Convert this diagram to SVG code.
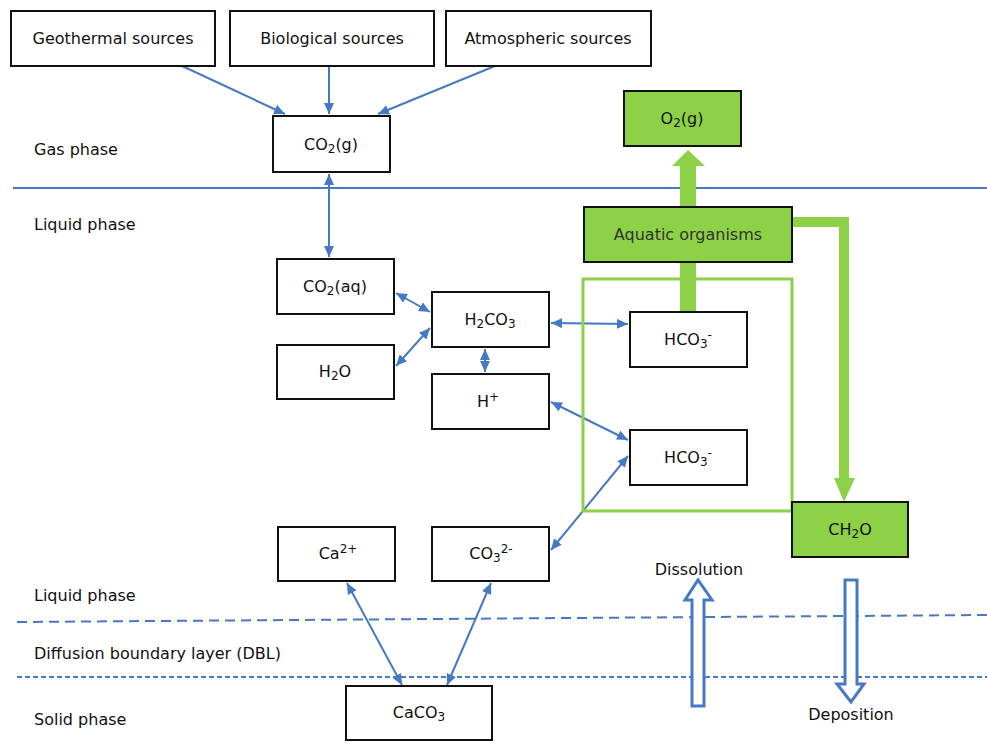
<svg xmlns="http://www.w3.org/2000/svg" width="987" height="745" viewBox="0 0 987 745">
<defs>
<style>
text{font-family:"DejaVu Sans","Liberation Sans",sans-serif;font-size:16px;fill:#111}
.c{text-anchor:middle}
.box{fill:#fff;stroke:#111;stroke-width:2}
.gbox{fill:#8CD146;stroke:#111;stroke-width:2}
.ln{stroke:#4679C4;stroke-width:2;fill:none}
.sub{font-size:12px}
.hol{fill:#fff;stroke:#4679C4;stroke-width:3}
</style>
<marker id="ah" markerUnits="userSpaceOnUse" markerWidth="12" markerHeight="10" refX="11" refY="5" orient="auto">
<path d="M0,0 L11,5 L0,10 Z" fill="#4679C4"/>
</marker>
<marker id="as" markerUnits="userSpaceOnUse" markerWidth="12" markerHeight="10" refX="1" refY="5" orient="auto">
<path d="M12,0 L1,5 L12,10 Z" fill="#4679C4"/>
</marker>
</defs>
<rect width="987" height="745" fill="#fff"/>

<g id="layers">
<line x1="13" y1="188" x2="987" y2="188" stroke="#4679C4" stroke-width="2"/>
<line x1="17" y1="622" x2="987" y2="615" stroke="#4679C4" stroke-width="2" stroke-dasharray="10,6"/>
<line x1="17" y1="677" x2="987" y2="677" stroke="#4679C4" stroke-width="2" stroke-dasharray="5,3"/>
<text x="34" y="155">Gas phase</text>
<text x="34" y="230">Liquid phase</text>
<text x="34" y="601">Liquid phase</text>
<text x="34" y="659">Diffusion boundary layer (DBL)</text>
<text x="34" y="725">Solid phase</text>
</g>

<g id="connectors">
<line class="ln" x1="180" y1="65" x2="285" y2="114" marker-end="url(#ah)"/>
<line class="ln" x1="329" y1="66" x2="329" y2="114" marker-end="url(#ah)"/>
<line class="ln" x1="495" y1="66" x2="378" y2="114" marker-end="url(#ah)"/>
<line class="ln" x1="329" y1="174" x2="329" y2="257" marker-start="url(#as)" marker-end="url(#ah)"/>
<line class="ln" x1="396" y1="293" x2="430" y2="312" marker-start="url(#as)" marker-end="url(#ah)"/>
<line class="ln" x1="396" y1="366" x2="430" y2="328" marker-start="url(#as)" marker-end="url(#ah)"/>
<line class="ln" x1="485" y1="349" x2="485" y2="372" marker-start="url(#as)" marker-end="url(#ah)"/>
<line class="ln" x1="551" y1="323" x2="628" y2="324" marker-start="url(#as)" marker-end="url(#ah)"/>
<line class="ln" x1="551" y1="402" x2="628" y2="440" marker-start="url(#as)" marker-end="url(#ah)"/>
<line class="ln" x1="628" y1="456" x2="551" y2="550" marker-start="url(#as)" marker-end="url(#ah)"/>
<line class="ln" x1="347" y1="583" x2="402" y2="685" marker-start="url(#as)" marker-end="url(#ah)"/>
<line class="ln" x1="491" y1="583" x2="447" y2="685" marker-start="url(#as)" marker-end="url(#ah)"/>
<!-- green flows -->
<rect x="583" y="279" width="209" height="232" fill="none" stroke="#8CD146" stroke-width="3"/>
<rect x="680" y="262" width="16" height="50" fill="#8CD146"/>
<path d="M680,207 L680,166 L672,166 L688,150 L705,166 L696,166 L696,207 Z" fill="#8CD146"/>
<path d="M792,217 L849,217 L849,478 L855,478 L844,502 L834,478 L839,478 L839,227 L792,227 Z" fill="#8CD146"/>
<!-- hollow arrows -->
<path class="hol" d="M692,706 L692,600 L685,600 L698,580 L712,600 L704,600 L704,706 Z"/>
<path class="hol" d="M845,580 L857,580 L857,684 L864,684 L851,702 L837,684 L845,684 Z"/>
<text class="c" x="699" y="575">Dissolution</text>
<text class="c" x="851" y="720">Deposition</text>
</g>

<g id="geothermal"><rect class="box" x="11" y="11" width="204" height="55"/><text class="c" x="113" y="44">Geothermal sources</text></g>
<g id="biological"><rect class="box" x="230" y="11" width="204" height="55"/><text class="c" x="332" y="44">Biological sources</text></g>
<g id="atmospheric"><rect class="box" x="446" y="11" width="205" height="55"/><text class="c" x="548" y="44">Atmospheric sources</text></g>
<g id="co2g"><rect class="box" x="273" y="116" width="117" height="56"/><text class="c" x="331" y="150">CO<tspan class="sub" dy="3">2</tspan><tspan dy="-3">(g)</tspan></text></g>
<g id="o2g"><rect class="gbox" x="624" y="91" width="117" height="55"/><text class="c" x="682" y="124">O<tspan class="sub" dy="3">2</tspan><tspan dy="-3">(g)</tspan></text></g>
<g id="aquatic"><rect class="gbox" x="584" y="207" width="208" height="55"/><text class="c" x="688" y="240" style="fill:#333">Aquatic organisms</text></g>
<g id="co2aq"><rect class="box" x="277" y="259" width="117" height="55"/><text class="c" x="335" y="292">CO<tspan class="sub" dy="3">2</tspan><tspan dy="-3">(aq)</tspan></text></g>
<g id="h2o"><rect class="box" x="277" y="345" width="117" height="54"/><text class="c" x="335" y="377">H<tspan class="sub" dy="3">2</tspan><tspan dy="-3">O</tspan></text></g>
<g id="h2co3"><rect class="box" x="432" y="292" width="117" height="55"/><text class="c" x="490" y="325">H<tspan class="sub" dy="3">2</tspan><tspan dy="-3">CO</tspan><tspan class="sub" dy="3">3</tspan></text></g>
<g id="hplus"><rect class="box" x="432" y="374" width="117" height="55"/><text class="c" x="488" y="407">H<tspan class="sub" dy="-6">+</tspan></text></g>
<g id="hco3a"><rect class="box" x="630" y="312" width="117" height="55"/><text class="c" x="688" y="345">HCO<tspan class="sub" dy="3">3</tspan><tspan class="sub" dy="-9">-</tspan></text></g>
<g id="hco3b"><rect class="box" x="630" y="430" width="117" height="55"/><text class="c" x="688" y="463">HCO<tspan class="sub" dy="3">3</tspan><tspan class="sub" dy="-9">-</tspan></text></g>
<g id="ch2o"><rect class="gbox" x="792" y="502" width="116" height="55"/><text class="c" x="850" y="535">CH<tspan class="sub" dy="3">2</tspan><tspan dy="-3">O</tspan></text></g>
<g id="ca"><rect class="box" x="278" y="527" width="117" height="54"/><text class="c" x="338" y="559">Ca<tspan class="sub" dy="-6">2+</tspan></text></g>
<g id="co3"><rect class="box" x="432" y="527" width="117" height="54"/><text class="c" x="491" y="559">CO<tspan class="sub" dy="3">3</tspan><tspan class="sub" dy="-9">2-</tspan></text></g>
<g id="caco3"><rect class="box" x="346" y="686" width="146" height="54"/><text class="c" x="419" y="718">CaCO<tspan class="sub" dy="3">3</tspan></text></g>
</svg>
